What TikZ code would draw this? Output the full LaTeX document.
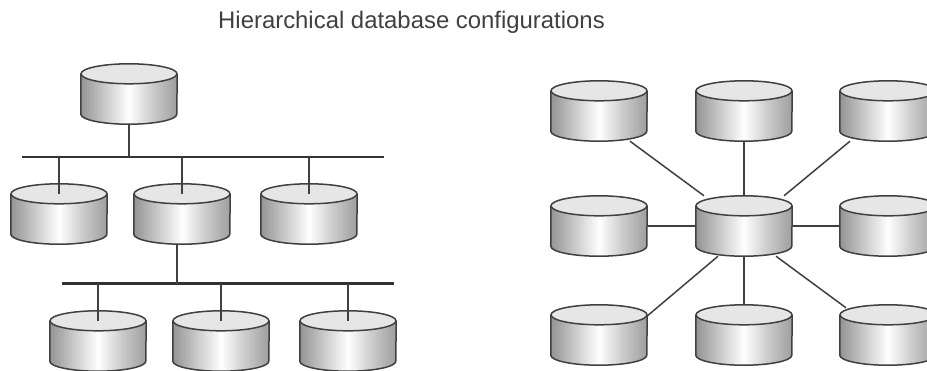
\documentclass[tikz,border=0pt]{standalone}
\usepackage{fontspec}
\setmainfont{Liberation Sans}
\usetikzlibrary{positioning}
\usetikzlibrary{backgrounds}
\definecolor{linegray}{HTML}{404040}
\definecolor{topgray}{HTML}{E6E6E6}
\pgfdeclarehorizontalshading{drumbody}{100bp}{%
  rgb(0bp)=(.58,.58,.58);
  rgb(25bp)=(.58,.58,.58);
  rgb(38bp)=(.80,.80,.80);
  rgb(50bp)=(1,1,1);
  rgb(62bp)=(.80,.80,.80);
  rgb(75bp)=(.62,.62,.62);
  rgb(100bp)=(.62,.62,.62)}
\tikzset{%
  drum/.style   = {rectangle, inner sep=0pt, minimum height=60pt, minimum width=96pt},
  bus/.style    = {rectangle, inner sep=0pt, fill=black!80, minimum height=2pt},
  link/.style   = {draw=linegray, line width=1.5pt},
  title/.style  = {font=\fontsize{23.9}{28}\selectfont, text=black!75}
}
\newcommand{\drum}[3]{%
  \draw node at (#2,#3) [drum] (#1) {};
  \shade[shading=drumbody] ([yshift=-10pt]#1.north west) -- ([yshift=10pt]#1.south west)
    arc[start angle=180, end angle=360, x radius=48pt, y radius=10pt]
    -- ([yshift=-10pt]#1.north east) -- cycle;
  \draw[linegray, line width=1.5pt] ([yshift=-10pt]#1.north west) -- ([yshift=10pt]#1.south west)
    arc[start angle=180, end angle=360, x radius=48pt, y radius=10pt]
    -- ([yshift=-10pt]#1.north east);
  \draw[linegray, line width=1.5pt, fill=topgray] ([yshift=-10pt]#1.north)
    ellipse[x radius=48pt, y radius=10pt];
}

\begin{document}
\begin{tikzpicture}[x=1pt, y=-1pt]
  \useasboundingbox (0,0) rectangle (927,370);

  \draw node at (411.5,22.5) [title] (title) {Hierarchical database configurations};

  % left tree
  \drum{root}{129}{94}
  \drum{midA}{59}{214}
  \drum{midB}{182}{214}
  \drum{midC}{309}{214}
  \drum{lowA}{98}{341}
  \drum{lowB}{221}{341}
  \drum{lowC}{348}{341}
  \draw node at (203,156.5) [bus, minimum width=362pt] (busA) {};
  \draw node at (228,283.5) [bus, minimum width=332pt, minimum height=2.6pt] (busB) {};

  \draw[link] (root.south) -- (root |- busA);
  \draw[link] (midA |- busA) -- ([yshift=-10pt]midA.north);
  \draw[link] (midB |- busA) -- ([yshift=-10pt]midB.north);
  \draw[link] (midC |- busA) -- ([yshift=-10pt]midC.north);
  \draw[link] ([xshift=-5pt]midB.south) -- ([xshift=-5pt]midB.south |- busB);
  \draw[link] (lowA |- busB) -- ([yshift=-10pt]lowA.north);
  \draw[link] (lowB |- busB) -- ([yshift=-10pt]lowB.north);
  \draw[link] (lowC |- busB) -- ([yshift=-10pt]lowC.north);

  % right star
  \drum{hub}{744}{226}
  \drum{upL}{599}{111}
  \drum{upM}{744}{111}
  \drum{upR}{888}{111}
  \drum{sideL}{599}{226}
  \drum{sideR}{888}{226}
  \drum{dnL}{599}{335}
  \drum{dnM}{744}{335}
  \drum{dnR}{888}{335}

  \begin{scope}[on background layer]
    \draw[link] ([xshift=-40pt]hub.north) -- ([xshift=31pt]upL.south);
    \draw[link] (hub.north) -- (upM.south);
    \draw[link] ([xshift=40pt]hub.north) -- ([xshift=-38pt]upR.south);
    \draw[link] (hub.west) -- (sideL.east);
    \draw[link] (hub.east) -- (sideR.west);
    \draw[link] ([xshift=-26pt]hub.south) -- ([yshift=19pt]dnL.east);
    \draw[link] (hub.south) -- (dnM.north);
    \draw[link] ([xshift=32pt]hub.south) -- ([xshift=-42pt,yshift=-3pt]dnR.north);
  \end{scope}
\end{tikzpicture}
\end{document}
